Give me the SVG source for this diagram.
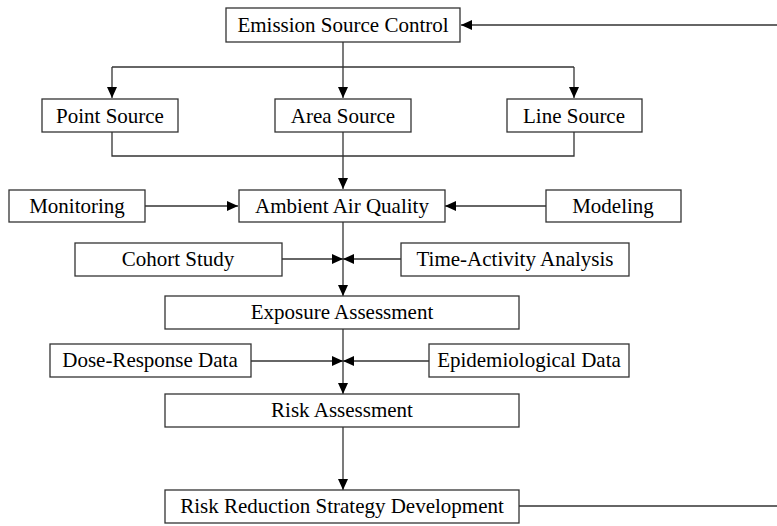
<svg xmlns="http://www.w3.org/2000/svg" width="777" height="526" viewBox="0 0 777 526">
<style>
.box rect{fill:#fff;stroke:#333;stroke-width:1.3}
.box text{font-family:"Liberation Serif","Times New Roman",serif;font-size:21px;fill:#000;text-anchor:middle;dominant-baseline:central}
#connectors path{fill:none;stroke:#333;stroke-width:1.3}
</style>
<defs>
<marker id="ah" markerWidth="11" markerHeight="10" refX="11" refY="5" orient="auto" markerUnits="userSpaceOnUse">
<path d="M0,0 L11,5 L0,10 z" fill="#000"/>
</marker>
</defs>
<rect width="777" height="526" fill="#fff"/>
<g id="connectors">
<path d="M777,25 L461,25" marker-end="url(#ah)"/>
<path d="M343,42 L343,98" marker-end="url(#ah)"/>
<path d="M112,67 L574,67"/>
<path d="M112,67 L112,98" marker-end="url(#ah)"/>
<path d="M574,67 L574,98" marker-end="url(#ah)"/>
<path d="M112,132 L112,156 L574,156 L574,132"/>
<path d="M343,132 L343,189" marker-end="url(#ah)"/>
<path d="M145,206 L238,206" marker-end="url(#ah)"/>
<path d="M546,206 L445,206" marker-end="url(#ah)"/>
<path d="M343,222 L343,296" marker-end="url(#ah)"/>
<path d="M282,259 L343,259" marker-end="url(#ah)"/>
<path d="M401,259 L343,259" marker-end="url(#ah)"/>
<path d="M343,329 L343,394" marker-end="url(#ah)"/>
<path d="M251,361 L343,361" marker-end="url(#ah)"/>
<path d="M429,361 L343,361" marker-end="url(#ah)"/>
<path d="M343,427 L343,490" marker-end="url(#ah)"/>
<path d="M519,506 L777,506"/>
</g>
<g id="emission" class="box"><rect x="226" y="8" width="234" height="34"/><text x="343" y="25">Emission Source Control</text></g>
<g id="point" class="box"><rect x="42" y="99" width="136" height="33"/><text x="110" y="116">Point Source</text></g>
<g id="area" class="box"><rect x="275" y="99" width="136" height="33"/><text x="343" y="116">Area Source</text></g>
<g id="line" class="box"><rect x="507" y="99" width="135" height="33"/><text x="574" y="116">Line Source</text></g>
<g id="monitoring" class="box"><rect x="9" y="190" width="136" height="32"/><text x="77" y="206">Monitoring</text></g>
<g id="ambient" class="box"><rect x="239" y="190" width="206" height="32"/><text x="342" y="206">Ambient Air Quality</text></g>
<g id="modeling" class="box"><rect x="546" y="190" width="135" height="32"/><text x="613" y="206">Modeling</text></g>
<g id="cohort" class="box"><rect x="75" y="243" width="207" height="33"/><text x="178" y="259">Cohort Study</text></g>
<g id="timeactivity" class="box"><rect x="401" y="243" width="228" height="33"/><text x="515" y="259">Time-Activity Analysis</text></g>
<g id="exposure" class="box"><rect x="165" y="296" width="354" height="33"/><text x="342" y="312">Exposure Assessment</text></g>
<g id="doseresponse" class="box"><rect x="50" y="344" width="201" height="33"/><text x="150" y="360">Dose-Response Data</text></g>
<g id="epidemiological" class="box"><rect x="429" y="344" width="200" height="33"/><text x="529" y="360">Epidemiological Data</text></g>
<g id="risk" class="box"><rect x="165" y="394" width="354" height="33"/><text x="342" y="410">Risk Assessment</text></g>
<g id="reduction" class="box"><rect x="165" y="490" width="354" height="33"/><text x="342" y="506">Risk Reduction Strategy Development</text></g>
</svg>
